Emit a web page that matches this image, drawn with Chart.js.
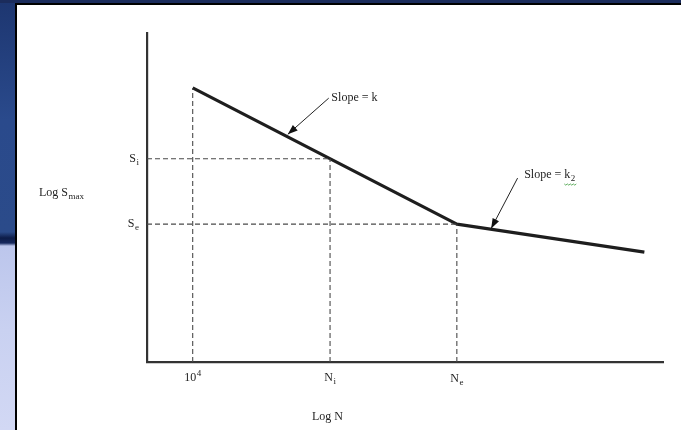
<!DOCTYPE html>
<html><head><meta charset="utf-8">
<script src="https://cdn.jsdelivr.net/npm/chart.js@4"></script>
<style>
html,body{margin:0;padding:0;width:681px;height:430px;overflow:hidden;background:#fff;}
#bgL{position:absolute;left:0;top:0;width:15px;height:430px;background:linear-gradient(to bottom,#1d3670 0px,#2a4a8c 120px,#2b4b8a 232px,#0d1c48 238px,#15285c 243px,#bcc6ec 246px,#c9d1f1 330px,#d2d8f4 430px);}
#bgT{position:absolute;left:0;top:0;width:681px;height:3px;background:#1b2c5c;}
#frame{position:absolute;left:15px;top:3px;width:666px;height:427px;border-left:2px solid #000;border-top:2px solid #000;box-sizing:border-box;background:#fff;}
canvas{position:absolute;left:0;top:0;}
</style></head>
<body>
<div id="bgL"></div><div id="bgT"></div><div id="frame"></div>
<canvas id="c" width="681" height="430"></canvas>
<script>
// ---- data (log N on x, log S on y; arbitrary log units) ----
const xMin = 3.654, xMax = 7.561;
const yMin = 0, yMax = 10;
const curveX = [4.0, 6.0, 7.42];
const curveY = [8.33, 4.19, 3.34];
const xTickValues = [4.0, 5.04, 6.0];
const xTickBase = ['10', 'N', 'N'];
const xTickSmall = ['4', 'i', 'e'];
const xTickKind = ['sup', 'sub', 'sub'];
const yTickValues = [6.18, 4.19];
const yTickBase = ['S', 'S'];
const yTickSmall = ['i', 'e'];
const arrowFromX = [5.03, 6.46];
const arrowFromY = [8.02, 5.59];
const arrowToX = [4.72, 6.26];
const arrowToY = [6.92, 4.06];
const noteX = [5.05, 6.51];
const noteY = [8.06, 5.71];
const noteText = ['Slope = k', 'Slope = k'];
const noteSub = ['', '2'];
const xTitle = 'Log N';
const xTitlePos = 5.02;
const yTitleBase = 'Log S';
const yTitleSub = 'max';

// guide (dashed) lines built from the tick arrays
const startX = curveX[0], startY = curveY[0];
const guides = [
  [{x: startX, y: yMin}, {x: startX, y: startY}],
  [{x: xMin, y: yTickValues[0]}, {x: xTickValues[1], y: yTickValues[0]}],
  [{x: xTickValues[1], y: yMin}, {x: xTickValues[1], y: yTickValues[0]}],
  [{x: xMin, y: yTickValues[1]}, {x: xTickValues[2], y: yTickValues[1]}],
  [{x: xTickValues[2], y: yMin}, {x: xTickValues[2], y: yTickValues[1]}]
];

const FONT = '"Liberation Serif", "Times New Roman", serif';
const TXT = '#1e1e1e';

const datasets = [];
guides.forEach(g => datasets.push({data: g, borderColor: '#4a4a4a', borderWidth: 1.1, borderDash: [5, 3], pointRadius: 0, showLine: true, fill: false}));
arrowFromX.forEach((_, i) => datasets.push({data: [{x: arrowFromX[i], y: arrowFromY[i]}, {x: arrowToX[i], y: arrowToY[i]}], borderColor: '#222', borderWidth: 1, pointRadius: 0, showLine: true, fill: false}));
datasets.push({data: curveX.map((x, i) => ({x, y: curveY[i]})), borderColor: '#1e1e1e', borderWidth: 3.2, pointRadius: 0, showLine: true, fill: false, tension: 0, borderJoinStyle: 'round'});

function drawSmall(ctx, base, small, kind, x, y, align, size) {
  ctx.font = size + 'px ' + FONT;
  const wb = ctx.measureText(base).width;
  const ss = Math.round(size * 0.72);
  ctx.font = ss + 'px ' + FONT;
  const ws = small ? ctx.measureText(small).width : 0;
  const w = wb + ws + (small ? 0.5 : 0);
  let sx = x;
  if (align === 'center') sx = x - w / 2;
  else if (align === 'right') sx = x - w;
  ctx.textAlign = 'left';
  ctx.textBaseline = 'alphabetic';
  ctx.fillStyle = TXT;
  ctx.font = size + 'px ' + FONT;
  ctx.fillText(base, sx, y);
  if (small) {
    ctx.font = ss + 'px ' + FONT;
    ctx.fillText(small, sx + wb + 0.5, kind === 'sup' ? y - size * 0.38 : y + size * 0.25);
  }
  return {x: sx, w, wb};
}

const decor = {
  id: 'decor',
  afterDatasetsDraw(chart) {
    const ctx = chart.ctx, xs = chart.scales.x, ys = chart.scales.y, ca = chart.chartArea;
    ctx.save();
    // arrow heads
    arrowFromX.forEach((_, i) => {
      const x0 = xs.getPixelForValue(arrowFromX[i]), y0 = ys.getPixelForValue(arrowFromY[i]);
      const x1 = xs.getPixelForValue(arrowToX[i]), y1 = ys.getPixelForValue(arrowToY[i]);
      const a = Math.atan2(y1 - y0, x1 - x0), L = 10, W = 3.6;
      ctx.beginPath();
      ctx.moveTo(x1, y1);
      ctx.lineTo(x1 - L * Math.cos(a) + W * Math.sin(a), y1 - L * Math.sin(a) - W * Math.cos(a));
      ctx.lineTo(x1 - L * Math.cos(a) - W * Math.sin(a), y1 - L * Math.sin(a) + W * Math.cos(a));
      ctx.closePath();
      ctx.fillStyle = '#111';
      ctx.fill();
    });
    // slope notes
    noteX.forEach((_, i) => {
      const px = xs.getPixelForValue(noteX[i]), py = ys.getPixelForValue(noteY[i]) + 4;
      const r = drawSmall(ctx, noteText[i], noteSub[i], 'sub', px, py, 'left', 12);
      if (noteSub[i]) {
        // spell-check squiggle under k2
        ctx.strokeStyle = '#3a9a3a';
        ctx.lineWidth = 0.8;
        ctx.beginPath();
        const sx = r.x + r.wb - 6, ex = r.x + r.w + 1, yy = py + 6;
        for (let xx = sx, k = 0; xx <= ex; xx += 1.5, k++) {
          const yv = yy + (k % 2 ? 1 : -0.2);
          if (k === 0) ctx.moveTo(xx, yv); else ctx.lineTo(xx, yv);
        }
        ctx.stroke();
      }
    });
    // x tick labels
    xTickValues.forEach((v, i) => {
      const px = xs.getPixelForValue(v);
      drawSmall(ctx, xTickBase[i], xTickSmall[i], xTickKind[i], px, ca.bottom + 19 + (i === 2 ? 1 : 0), 'center', 12);
    });
    // y tick labels
    yTickValues.forEach((v, i) => {
      const py = ys.getPixelForValue(v);
      drawSmall(ctx, yTickBase[i], yTickSmall[i], 'sub', ca.left - 8, py + 3, 'right', 12);
    });
    // axis titles
    drawSmall(ctx, xTitle, '', '', xs.getPixelForValue(xTitlePos), ca.bottom + 58, 'center', 12);
    drawSmall(ctx, yTitleBase, yTitleSub, 'sub', 39, 196, 'left', 12);
    ctx.restore();
  }
};

new Chart(document.getElementById('c'), {
  type: 'scatter',
  data: {datasets},
  options: {
    responsive: false,
    animation: false,
    events: [],
    layout: {padding: {left: 147, top: 33, right: 18, bottom: 68}},
    plugins: {legend: {display: false}, tooltip: {enabled: false}},
    scales: {
      x: {
        type: 'linear', min: xMin, max: xMax,
        grid: {display: false, drawTicks: false},
        ticks: {display: false},
        border: {display: true, width: 2.2, color: '#333'},
        afterFit(s) { s.height = 0; }
      },
      y: {
        type: 'linear', min: yMin, max: yMax,
        grid: {display: false, drawTicks: false},
        ticks: {display: false},
        border: {display: true, width: 2.2, color: '#333'},
        afterFit(s) { s.width = 0; }
      }
    }
  },
  plugins: [decor]
});
</script>
</body></html>
